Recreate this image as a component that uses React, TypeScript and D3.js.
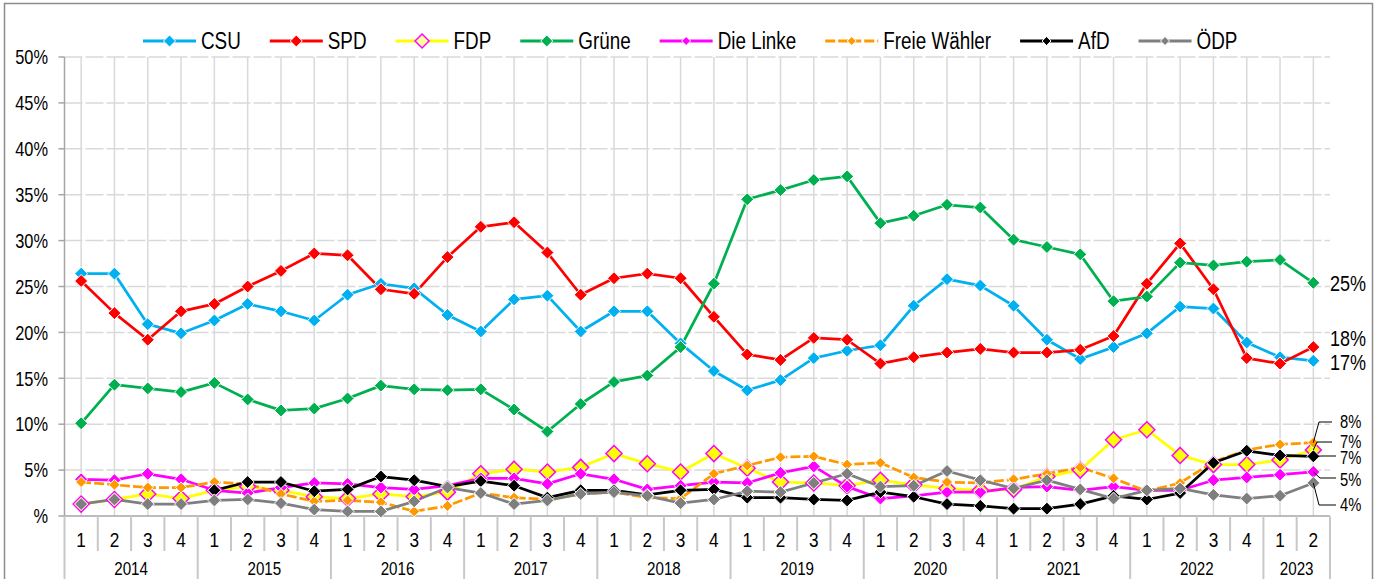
import React, { useEffect, useRef } from 'react';
import * as d3 from 'd3';

// quarters 2014 Q1 .. 2023 Q2
const years = ['2014', '2015', '2016', '2017', '2018', '2019', '2020', '2021', '2022', '2023'];
const quartersPerYear = [4, 4, 4, 4, 4, 4, 4, 4, 4, 2];

const yTickLabels = ['%', '5%', '10%', '15%', '20%', '25%', '30%', '35%', '40%', '45%', '50%'];

const csu = [26.4, 26.4, 20.9, 19.9, 21.3, 23.1, 22.3, 21.3, 24.1, 25.3, 24.8, 21.9, 20.1, 23.6, 24.0, 20.1, 22.3, 22.3, 18.8, 15.8, 13.7, 14.8, 17.2, 18.0, 18.6, 22.9, 25.8, 25.1, 22.9, 19.2, 17.1, 18.4, 19.9, 22.8, 22.6, 18.9, 17.3, 16.9];
const spd = [25.6, 22.1, 19.2, 22.3, 23.1, 25.0, 26.7, 28.6, 28.4, 24.7, 24.2, 28.2, 31.5, 32.0, 28.7, 24.1, 25.9, 26.4, 25.9, 21.7, 17.6, 17.0, 19.4, 19.2, 16.6, 17.3, 17.8, 18.2, 17.8, 17.8, 18.1, 19.6, 25.3, 29.7, 24.7, 17.2, 16.6, 18.4];
const fdp = [1.3, 1.8, 2.4, 1.9, 2.8, 3.2, 2.8, 2.1, 1.9, 2.4, 2.1, 2.6, 4.6, 5.1, 4.8, 5.3, 6.8, 5.7, 4.8, 6.8, 5.2, 3.7, 3.6, 3.3, 3.9, 3.4, 3.0, 2.8, 2.9, 4.3, 5.0, 8.3, 9.4, 6.6, 5.6, 5.6, 6.1, 7.2];
const gruene = [10.1, 14.3, 13.9, 13.5, 14.5, 12.7, 11.5, 11.7, 12.8, 14.2, 13.8, 13.7, 13.8, 11.6, 9.2, 12.2, 14.6, 15.3, 18.4, 25.3, 34.5, 35.5, 36.6, 37.0, 31.9, 32.7, 33.9, 33.6, 30.1, 29.3, 28.5, 23.4, 23.9, 27.6, 27.3, 27.7, 27.9, 25.4];
const linke = [4.0, 3.9, 4.6, 4.0, 2.8, 2.5, 3.1, 3.6, 3.5, 3.1, 2.9, 3.3, 4.1, 4.1, 3.5, 4.6, 4.0, 2.9, 3.3, 3.7, 3.6, 4.7, 5.4, 3.2, 1.9, 2.2, 2.6, 2.6, 3.1, 3.2, 2.8, 3.2, 2.8, 2.8, 3.9, 4.2, 4.5, 4.8];
const freieWaehler = [3.7, 3.4, 3.1, 3.1, 3.7, 3.5, 2.4, 1.6, 1.7, 1.5, 0.5, 1.1, 2.5, 2.0, 1.8, 2.4, 2.6, 2.0, 1.9, 4.6, 5.5, 6.4, 6.5, 5.6, 5.8, 4.2, 3.7, 3.6, 4.0, 4.6, 5.3, 4.1, 2.7, 3.6, 5.9, 7.2, 7.8, 8.0];
const afd = [null, null, null, null, 2.8, 3.7, 3.7, 2.7, 2.9, 4.3, 3.9, 3.2, 3.8, 3.3, 2.0, 2.8, 2.8, 2.3, 2.8, 2.9, 2.0, 2.0, 1.8, 1.7, 2.6, 2.1, 1.3, 1.1, 0.8, 0.8, 1.3, 2.2, 1.8, 2.5, 5.8, 7.1, 6.6, 6.5];
const oedp = [1.3, 1.8, 1.3, 1.3, 1.7, 1.8, 1.4, 0.7, 0.5, 0.5, 1.6, 3.1, 2.5, 1.3, 1.7, 2.4, 2.6, 2.2, 1.4, 1.8, 2.7, 2.6, 3.6, 4.6, 3.2, 3.3, 4.9, 3.9, 3.0, 3.9, 2.9, 1.9, 2.8, 3.0, 2.3, 1.9, 2.2, 3.6];

type Series = {
  name: string;
  values: (number | null)[];
  color: string;
  fill: string;
  stroke: string;
  r: number;
  legendR: number;
  dash?: string;
};

const series: Series[] = [
  { name: 'CSU', values: csu, color: '#00B0F0', fill: '#00B0F0', stroke: '#fff', r: 6.5, legendR: 6 },
  { name: 'SPD', values: spd, color: '#FF0000', fill: '#FF0000', stroke: '#fff', r: 6.5, legendR: 6 },
  { name: 'FDP', values: fdp, color: '#FFFF00', fill: '#FFFF00', stroke: '#FF00FF', r: 8, legendR: 7 },
  { name: 'Grüne', values: gruene, color: '#00B050', fill: '#00B050', stroke: '#fff', r: 6.5, legendR: 6 },
  { name: 'Die Linke', values: linke, color: '#FF00FF', fill: '#FF00FF', stroke: '#fff', r: 6.5, legendR: 4.5 },
  { name: 'Freie Wähler', values: freieWaehler, color: '#FF9900', fill: '#FF9900', stroke: '#fff', r: 5.5, legendR: 4.5, dash: '10,3' },
  { name: 'AfD', values: afd, color: '#000000', fill: '#000000', stroke: '#fff', r: 6.5, legendR: 4.5 },
  { name: 'ÖDP', values: oedp, color: '#7F7F7F', fill: '#7F7F7F', stroke: '#fff', r: 6.5, legendR: 4.5 },
];

// end labels: big ones follow the last value, small ones sit on leader lines
const endLabels = [
  { name: 'Grüne', big: true, dy: 0 },
  { name: 'SPD', big: true, dy: -9 },
  { name: 'CSU', big: true, dy: 1 },
  { name: 'Freie Wähler', big: false, ly: 422, lead: [[1319, 422], [1332, 422]] },
  { name: 'FDP', big: false, ly: 442, lead: [[1317, 442], [1332, 442]] },
  { name: 'AfD', big: false, ly: 458, lead: [[1322, 456], [1336, 456]] },
  { name: 'Die Linke', big: false, ly: 480, lead: [[1320, 478], [1336, 478]] },
  { name: 'ÖDP', big: false, ly: 505, lead: [[1319, 505], [1336, 505]] },
];

const FONT = '"Liberation Sans", Arial, sans-serif';
const NARROW = 0.82; // condense text like Arial Narrow
const diamond = (r: number) => `M0,${-r}L${r},0L0,${r}L${-r},0Z`;

const App = () => {
  const ref = useRef<SVGSVGElement>(null);

  useEffect(() => {
    const svg = d3.select(ref.current);
    svg.selectAll('*').remove();

    const width = 1381;
    const height = 579;
    const left = 64.5;
    const right = 1330;
    const top = 57;
    const bottom = 516;

    const cats: { year: string; q: number }[] = [];
    years.forEach((y, i) => {
      for (let q = 1; q <= quartersPerYear[i]; q++) cats.push({ year: y, q });
    });
    const idx = cats.map((_, i) => i);

    const x = d3.scaleBand<number>().domain(idx).range([left, right]);
    const cx = (i: number) => (x(i) as number) + x.bandwidth() / 2;
    const y = d3.scaleLinear().domain([0, 50]).range([bottom, top]);

    svg.attr('width', width).attr('height', height).attr('viewBox', `0 0 ${width} ${height}`);

    const label = (g: any, tx: number, ty: number, size: number, anchor: string, txt: string) =>
      g.append('text')
        .attr('transform', `translate(${tx},${ty}) scale(${NARROW},1)`)
        .attr('dy', '0.36em')
        .attr('text-anchor', anchor)
        .attr('font-family', FONT)
        .attr('font-size', size)
        .attr('fill', '#000')
        .text(txt);

    // chart border
    svg.append('rect')
      .attr('x', 4.5).attr('y', 3.5).attr('width', 1368).attr('height', 620)
      .attr('fill', '#fff').attr('stroke', '#8C8C8C').attr('stroke-width', 1.5);

    const grid = svg.append('g');
    grid.selectAll('.hg')
      .data(d3.range(1, 11))
      .enter()
      .append('line')
      .attr('x1', left).attr('x2', right)
      .attr('y1', (d) => y(d * 5)).attr('y2', (d) => y(d * 5))
      .attr('stroke', '#D9D9D9').attr('stroke-width', 1.5)
      .attr('stroke-dasharray', '18,3');
    grid.selectAll('.vg')
      .data(idx)
      .enter()
      .append('line')
      .attr('x1', (d) => cx(d)).attr('x2', (d) => cx(d))
      .attr('y1', top).attr('y2', bottom)
      .attr('stroke', '#D9D9D9').attr('stroke-width', 1.5);

    // y axis
    svg.append('line')
      .attr('x1', left).attr('x2', left).attr('y1', top).attr('y2', bottom)
      .attr('stroke', '#A6A6A6').attr('stroke-width', 1.5);
    svg.selectAll('.yt')
      .data(yTickLabels)
      .enter()
      .append('line')
      .attr('x1', left - 6).attr('x2', left)
      .attr('y1', (_, i) => y(i * 5)).attr('y2', (_, i) => y(i * 5))
      .attr('stroke', '#A6A6A6').attr('stroke-width', 1.5);
    yTickLabels.forEach((t, i) => label(svg, 48, y(i * 5), 20, 'end', t));

    // x axis
    svg.append('line')
      .attr('x1', left).attr('x2', right).attr('y1', bottom).attr('y2', bottom)
      .attr('stroke', '#A6A6A6').attr('stroke-width', 1.5);
    const bounds = d3.range(0, cats.length + 1);
    svg.selectAll('.xs')
      .data(bounds)
      .enter()
      .append('line')
      .attr('x1', (d) => left + d * x.bandwidth())
      .attr('x2', (d) => left + d * x.bandwidth())
      .attr('y1', bottom)
      .attr('y2', (d) => (d === 0 || d === cats.length || cats[d].q === 1 ? height : 551))
      .attr('stroke', '#C8C8C8').attr('stroke-width', 2);
    cats.forEach((c, i) => label(svg, cx(i), 539, 21, 'middle', String(c.q)));
    let start = 0;
    years.forEach((yr, i) => {
      const n = quartersPerYear[i];
      const mid = (cx(start) + cx(start + n - 1)) / 2;
      label(svg, mid, 568.5, 18.5, 'middle', yr);
      start += n;
    });

    // lines and markers
    const line = d3.line<number | null>()
      .defined((d) => d != null)
      .x((_, i) => cx(i))
      .y((d) => y(d as number));

    series.forEach((s) => {
      svg.append('path')
        .datum(s.values)
        .attr('d', line)
        .attr('fill', 'none')
        .attr('stroke', s.color)
        .attr('stroke-width', 2.75)
        .attr('stroke-linejoin', 'round')
        .attr('stroke-dasharray', s.dash || null);
    });
    series.forEach((s) => {
      svg.append('g')
        .selectAll('path')
        .data(s.values.map((v, i) => ({ v, i })).filter((d) => d.v != null))
        .enter()
        .append('path')
        .attr('transform', (d) => `translate(${cx(d.i)},${y(d.v as number)})`)
        .attr('d', diamond(s.r))
        .attr('fill', s.fill)
        .attr('stroke', s.stroke)
        .attr('stroke-width', s.name === 'FDP' ? 1.5 : 1);
    });

    // end labels
    const lastX = cx(cats.length - 1);
    endLabels.forEach((l) => {
      const s = series.find((d) => d.name === l.name) as Series;
      const v = s.values[s.values.length - 1] as number;
      const txt = `${Math.round(v)}%`;
      if (l.big) {
        label(svg, 1330, y(v) + (l.dy as number), 22, 'start', txt);
      } else {
        const pts = [[lastX, y(v)], ...(l.lead as number[][])];
        svg.append('path')
          .attr('d', d3.line()(pts as [number, number][]))
          .attr('fill', 'none').attr('stroke', '#000').attr('stroke-width', 1);
        label(svg, 1340, l.ly as number, 18, 'start', txt);
      }
    });

    // legend
    const lg = svg.append('g');
    let lx = 143;
    const ly = 41;
    series.forEach((s) => {
      lg.append('line')
        .attr('x1', lx).attr('x2', lx + 53).attr('y1', ly).attr('y2', ly)
        .attr('stroke', s.color).attr('stroke-width', 3)
        .attr('stroke-dasharray', s.dash || null);
      lg.append('path')
        .attr('transform', `translate(${lx + 26.5},${ly})`)
        .attr('d', diamond(s.legendR))
        .attr('fill', s.name === 'FDP' ? '#FFFF99' : s.fill)
        .attr('stroke', s.stroke).attr('stroke-width', s.name === 'FDP' ? 1.5 : 1);
      const t = label(lg, lx + 58, ly, 23, 'start', s.name);
      const w = (t.node() as SVGTextElement).getComputedTextLength() * NARROW;
      lx += 58 + w + 29;
    });
  }, []);

  return (
    <div style={{ position: 'absolute', left: 0, top: 0 }}>
      <svg ref={ref} style={{ display: 'block' }} />
    </div>
  );
};

export default App;
